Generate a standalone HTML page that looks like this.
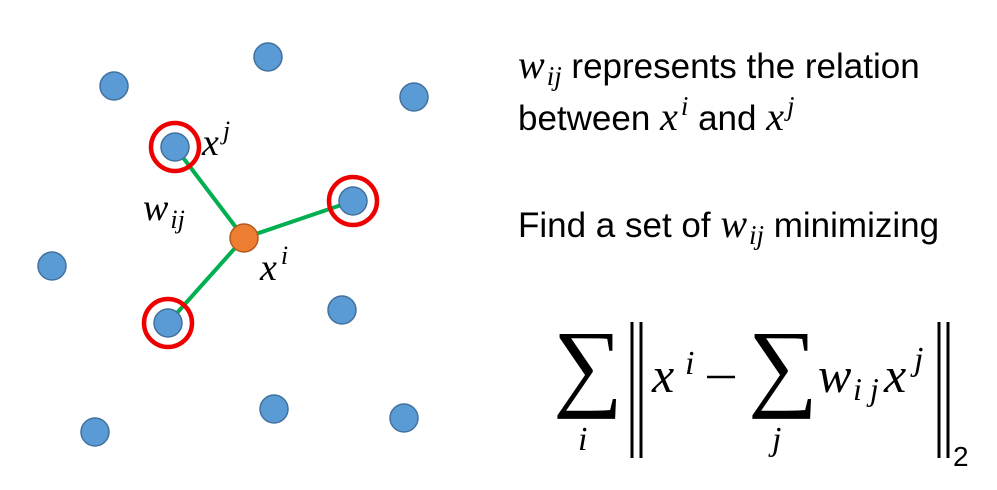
<!DOCTYPE html>
<html><head><meta charset="utf-8"><style>
html,body{margin:0;padding:0;background:#fff;width:997px;height:490px;overflow:hidden}
.t{font-family:"Liberation Sans",sans-serif;font-size:35px;fill:#000}
.m{font-family:"Liberation Serif",serif;font-style:italic;fill:#000}
</style></head><body>
<svg width="997" height="490" viewBox="0 0 997 490">
<g stroke="#00b050" stroke-width="4">
<line x1="244" y1="238" x2="175" y2="147"/>
<line x1="244" y1="238" x2="353" y2="201"/>
<line x1="244" y1="238" x2="168" y2="323"/>
</g>
<g fill="#5b9bd5" stroke="#41719c" stroke-width="1.5">
<circle cx="268" cy="57" r="14"/>
<circle cx="114" cy="86" r="14"/>
<circle cx="414" cy="97" r="14"/>
<circle cx="175" cy="147" r="14"/>
<circle cx="353" cy="201" r="14"/>
<circle cx="52" cy="266" r="14"/>
<circle cx="342" cy="310" r="14"/>
<circle cx="168" cy="323" r="14"/>
<circle cx="274" cy="409" r="14"/>
<circle cx="404" cy="418" r="14"/>
<circle cx="95" cy="432" r="14"/>
</g>
<g fill="none" stroke="#e00" stroke-width="4.5">
<circle cx="175" cy="147" r="24"/>
<circle cx="353" cy="201" r="24"/>
<circle cx="168" cy="323" r="24"/>
</g>
<circle cx="244" cy="238" r="14" fill="#ed7d31" stroke="#ae5a21" stroke-width="1.5"/>
<text class="m" x="202" y="155" font-size="38">x<tspan font-size="26" dy="-16" dx="4">j</tspan></text>
<text class="m" x="143" y="220" font-size="38">w<tspan font-size="26" dy="8" dx="2">ij</tspan></text>
<text class="m" x="260" y="280" font-size="38">x<tspan font-size="26" dy="-16" dx="4">i</tspan></text>

<text class="t" x="518" y="78"><tspan class="m" font-size="40">w</tspan><tspan class="m" font-size="27" dy="7" dx="2">ij</tspan><tspan dy="-7"> represents the relation</tspan></text>
<text class="t" x="518" y="130">between <tspan class="m" font-size="40">x</tspan><tspan class="m" font-size="27" dy="-15" dx="3">i</tspan><tspan dy="15"> and </tspan><tspan class="m" font-size="40">x</tspan><tspan class="m" font-size="27" dy="-15" dx="3">j</tspan></text>
<text class="t" x="518" y="237">Find a set of <tspan class="m" font-size="40">w</tspan><tspan class="m" font-size="27" dy="7" dx="2">ij</tspan><tspan dy="-7"> minimizing</tspan></text>

<g>
<text x="553" y="398" font-family="Liberation Serif,serif" font-size="98">∑</text>
<text class="m" x="578" y="450" font-size="34">i</text>
<line x1="632" y1="322" x2="632" y2="458" stroke="#000" stroke-width="3"/>
<line x1="641" y1="322" x2="641" y2="458" stroke="#000" stroke-width="3"/>
<text class="m" x="652" y="392" font-size="50">x</text>
<text class="m" x="685" y="374" font-size="34">i</text>
<line x1="707" y1="377" x2="735" y2="377" stroke="#000" stroke-width="2.5"/>
<text x="748" y="398" font-family="Liberation Serif,serif" font-size="98">∑</text>
<text class="m" x="772" y="450" font-size="34">j</text>
<text class="m" x="818" y="392" font-size="50">w</text>
<text class="m" x="853" y="400" font-size="32">i j</text>
<text class="m" x="884" y="392" font-size="50">x</text>
<text class="m" x="914" y="370" font-size="34">j</text>
<line x1="939" y1="322" x2="939" y2="458" stroke="#000" stroke-width="3"/>
<line x1="948" y1="322" x2="948" y2="458" stroke="#000" stroke-width="3"/>
<text x="953" y="466" font-family="Liberation Sans,sans-serif" font-size="28">2</text>
</g>
</svg>
</body></html>
